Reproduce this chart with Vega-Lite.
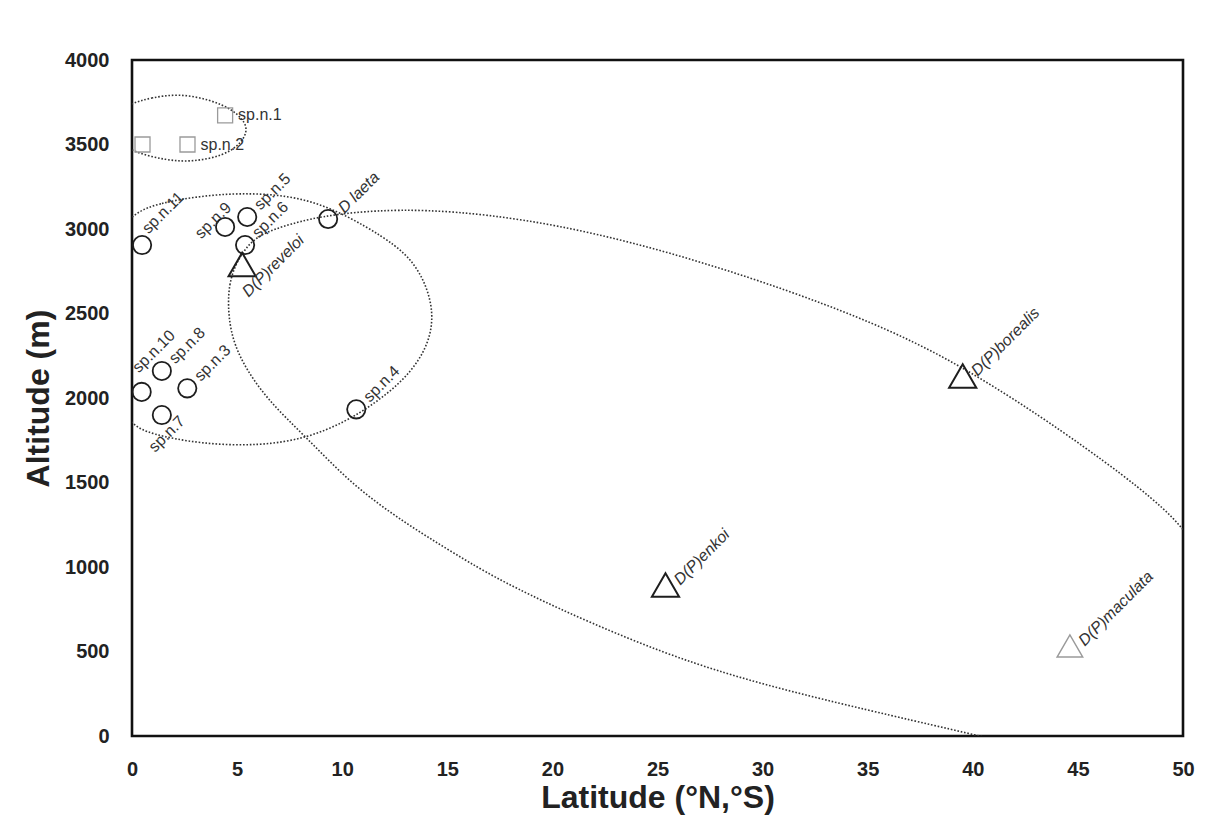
{
  "$schema": "https://vega.github.io/schema/vega-lite/v6.json",
  "width": 1051,
  "height": 676,
  "autosize": {"type": "none"},
  "padding": {"left": 132, "top": 60, "right": 33, "bottom": 99},
  "background": "white",
  "config": {
    "view": {"stroke": "#111111", "strokeWidth": 2.6},
    "font": "Liberation Sans"
  },
  "datasets": {
    "pts": [
      {"name": "", "x": 0.5, "y": 3500, "group": "sq"},
      {"name": "sp.n.2", "x": 2.64, "y": 3500, "group": "sq"},
      {"name": "sp.n.1", "x": 4.43, "y": 3672, "group": "sq"},
      {"name": "sp.n.11", "x": 0.48, "y": 2905, "group": "circ"},
      {"name": "sp.n.9", "x": 4.43, "y": 3012, "group": "circ"},
      {"name": "sp.n.5", "x": 5.48, "y": 3071, "group": "circ"},
      {"name": "sp.n.6", "x": 5.38, "y": 2905, "group": "circ"},
      {"name": "D laeta", "x": 9.33, "y": 3059, "group": "circ"},
      {"name": "sp.n.10", "x": 0.46, "y": 2036, "group": "circ"},
      {"name": "sp.n.8", "x": 1.42, "y": 2160, "group": "circ"},
      {"name": "sp.n.3", "x": 2.63, "y": 2057, "group": "circ"},
      {"name": "sp.n.7", "x": 1.42, "y": 1899, "group": "circ"},
      {"name": "sp.n.4", "x": 10.67, "y": 1933, "group": "circ"},
      {"name": "D(P)reveloi", "x": 5.24, "y": 2790, "group": "tri"},
      {"name": "D(P)borealis", "x": 39.52, "y": 2130, "group": "tri"},
      {"name": "D(P)enkoi", "x": 25.38, "y": 893, "group": "tri"},
      {"name": "D(P)maculata", "x": 44.62, "y": 533, "group": "tri2"}
    ],
    "ell": [
      {"e": "s", "i": 1, "x": 0, "y": 3746},
      {"e": "s", "i": 2, "x": 0.86, "y": 3775},
      {"e": "s", "i": 3, "x": 2.19, "y": 3802},
      {"e": "s", "i": 4, "x": 3.71, "y": 3766},
      {"e": "s", "i": 5, "x": 4.86, "y": 3704},
      {"e": "s", "i": 6, "x": 5.6, "y": 3604},
      {"e": "s", "i": 7, "x": 5.2, "y": 3505},
      {"e": "s", "i": 8, "x": 4.33, "y": 3432},
      {"e": "s", "i": 9, "x": 2.9, "y": 3398},
      {"e": "s", "i": 10, "x": 1.67, "y": 3405},
      {"e": "s", "i": 11, "x": 0, "y": 3456},
      {"e": "s", "i": 12, "x": -0.95, "y": 3538},
      {"e": "s", "i": 13, "x": -0.95, "y": 3675},

      {"e": "m", "i": 1, "x": 0, "y": 3095},
      {"e": "m", "i": 2, "x": 1.33, "y": 3154},
      {"e": "m", "i": 3, "x": 3.24, "y": 3195},
      {"e": "m", "i": 4, "x": 5.14, "y": 3213},
      {"e": "m", "i": 5, "x": 7.38, "y": 3201},
      {"e": "m", "i": 6, "x": 9.29, "y": 3136},
      {"e": "m", "i": 7, "x": 11.19, "y": 3012},
      {"e": "m", "i": 8, "x": 12.52, "y": 2905},
      {"e": "m", "i": 9, "x": 13.38, "y": 2805},
      {"e": "m", "i": 10, "x": 14.0, "y": 2669},
      {"e": "m", "i": 11, "x": 14.33, "y": 2509},
      {"e": "m", "i": 12, "x": 14.19, "y": 2355},
      {"e": "m", "i": 13, "x": 13.62, "y": 2213},
      {"e": "m", "i": 14, "x": 12.76, "y": 2089},
      {"e": "m", "i": 15, "x": 11.57, "y": 1970},
      {"e": "m", "i": 16, "x": 10.14, "y": 1858},
      {"e": "m", "i": 17, "x": 8.33, "y": 1763},
      {"e": "m", "i": 18, "x": 6.1, "y": 1716},
      {"e": "m", "i": 19, "x": 3.24, "y": 1728},
      {"e": "m", "i": 20, "x": 0.86, "y": 1787},
      {"e": "m", "i": 21, "x": 0, "y": 1840},
      {"e": "m", "i": 22, "x": -1.14, "y": 2018},
      {"e": "m", "i": 23, "x": -1.62, "y": 2462},
      {"e": "m", "i": 24, "x": -1.14, "y": 2905},

      {"e": "b", "i": 1, "x": 4.57, "y": 2550},
      {"e": "b", "i": 2, "x": 4.62, "y": 2669},
      {"e": "b", "i": 3, "x": 4.9, "y": 2787},
      {"e": "b", "i": 4, "x": 5.43, "y": 2893},
      {"e": "b", "i": 5, "x": 6.1, "y": 2970},
      {"e": "b", "i": 6, "x": 7.52, "y": 3030},
      {"e": "b", "i": 7, "x": 9.43, "y": 3089},
      {"e": "b", "i": 8, "x": 13.71, "y": 3130},
      {"e": "b", "i": 9, "x": 20.14, "y": 3041},
      {"e": "b", "i": 10, "x": 27.52, "y": 2799},
      {"e": "b", "i": 11, "x": 34.9, "y": 2473},
      {"e": "b", "i": 12, "x": 39.48, "y": 2195},
      {"e": "b", "i": 13, "x": 44.43, "y": 1793},
      {"e": "b", "i": 14, "x": 48.1, "y": 1456},
      {"e": "b", "i": 15, "x": 50.05, "y": 1237},
      {"e": "b", "i": 16, "x": 51.1, "y": 1012},
      {"e": "b", "i": 17, "x": 51.57, "y": 627},
      {"e": "b", "i": 18, "x": 52.05, "y": 154},
      {"e": "b", "i": 19, "x": 48.48, "y": -231},
      {"e": "b", "i": 20, "x": 46.1, "y": -172},
      {"e": "b", "i": 21, "x": 42.76, "y": -71},
      {"e": "b", "i": 22, "x": 39.71, "y": 18},
      {"e": "b", "i": 23, "x": 36.43, "y": 112},
      {"e": "b", "i": 24, "x": 30.95, "y": 272},
      {"e": "b", "i": 25, "x": 25.52, "y": 467},
      {"e": "b", "i": 26, "x": 18.24, "y": 864},
      {"e": "b", "i": 27, "x": 15.29, "y": 1083},
      {"e": "b", "i": 28, "x": 12.76, "y": 1278},
      {"e": "b", "i": 29, "x": 10.38, "y": 1497},
      {"e": "b", "i": 30, "x": 8.33, "y": 1763},
      {"e": "b", "i": 31, "x": 6.43, "y": 1988},
      {"e": "b", "i": 32, "x": 5.14, "y": 2225},
      {"e": "b", "i": 33, "x": 4.67, "y": 2402}
    ]
  },
  "encoding": {
    "x": {
      "field": "x",
      "type": "quantitative",
      "scale": {"domain": [0, 50], "nice": false, "zero": false},
      "axis": {
        "values": [0, 5, 10, 15, 20, 25, 30, 35, 40, 45, 50],
        "format": "d",
        "ticks": false,
        "tickSize": 0,
        "domain": false,
        "grid": false,
        "labelOverlap": false,
        "labelFlush": false,
        "labelFont": "Liberation Sans",
        "labelFontWeight": "bold",
        "labelFontSize": 20,
        "labelColor": "#222222",
        "labelPadding": 23,
        "title": "Latitude (°N,°S)",
        "titleFont": "Liberation Sans",
        "titleFontSize": 32,
        "titleFontWeight": "bold",
        "titleColor": "#222222",
        "titlePadding": 3
      }
    },
    "y": {
      "field": "y",
      "type": "quantitative",
      "scale": {"domain": [0, 4000], "nice": false, "zero": false},
      "axis": {
        "values": [0, 500, 1000, 1500, 2000, 2500, 3000, 3500, 4000],
        "format": "d",
        "ticks": false,
        "tickSize": 0,
        "domain": false,
        "grid": false,
        "labelOverlap": false,
        "labelFlush": false,
        "labelFont": "Liberation Sans",
        "labelFontWeight": "bold",
        "labelFontSize": 20,
        "labelColor": "#222222",
        "labelPadding": 23,
        "title": "Altitude (m)",
        "titleFont": "Liberation Sans",
        "titleFontSize": 32,
        "titleFontWeight": "bold",
        "titleColor": "#222222",
        "titlePadding": 9
      }
    }
  },
  "layer": [
    {
      "data": {"name": "ell"},
      "mark": {"type": "line", "interpolate": "basis-closed", "clip": true, "stroke": "#333333", "strokeWidth": 1.6, "strokeDash": [1.6, 1.8]},
      "encoding": {
        "detail": {"field": "e", "type": "nominal"},
        "order": {"field": "i", "type": "quantitative"}
      }
    },
    {
      "data": {"name": "pts"},
      "mark": {"type": "point", "filled": false, "opacity": 1},
      "encoding": {
        "shape": {"field": "group", "type": "nominal", "scale": {"domain": ["sq", "circ", "tri", "tri2"], "range": ["square", "circle", "triangle-up", "triangle-up"]}, "legend": null},
        "stroke": {"field": "group", "type": "nominal", "scale": {"domain": ["sq", "circ", "tri", "tri2"], "range": ["#9a9a9a", "#1e1e1e", "#1e1e1e", "#9a9a9a"]}, "legend": null},
        "size": {"field": "group", "type": "nominal", "scale": {"type": "ordinal", "domain": ["sq", "circ", "tri", "tri2"], "range": [225, 335, 740, 660]}, "legend": null},
        "strokeWidth": {"field": "group", "type": "nominal", "scale": {"type": "ordinal", "domain": ["sq", "circ", "tri", "tri2"], "range": [1.3, 1.8, 2, 1.4]}, "legend": null}
      }
    },
    {
      "data": {"name": "pts"},
      "transform": [{"filter": {"field": "name", "oneOf": ["sp.n.1", "sp.n.2"]}}],
      "mark": {"type": "text", "align": "left", "baseline": "middle", "dx": 13, "fontSize": 16, "font": "Liberation Sans", "fill": "#333333"},
      "encoding": {"text": {"field": "name"}}
    },
    {
      "data": {"name": "pts"},
      "transform": [{"filter": {"field": "name", "oneOf": ["sp.n.5", "sp.n.6", "sp.n.8", "sp.n.3", "sp.n.4"]}}],
      "mark": {"type": "text", "align": "left", "baseline": "middle", "angle": 315, "dx": 14, "dy": 0, "fontSize": 16, "font": "Liberation Sans", "fill": "#333333"},
      "encoding": {"text": {"field": "name"}}
    },
    {
      "data": {"name": "pts"},
      "transform": [{"filter": {"field": "name", "oneOf": ["sp.n.11"]}}],
      "mark": {"type": "text", "align": "left", "baseline": "middle", "angle": 315, "dx": 12, "dy": -8, "fontSize": 16, "font": "Liberation Sans", "fill": "#333333"},
      "encoding": {"text": {"field": "name"}}
    },
    {
      "data": {"name": "pts"},
      "transform": [{"filter": {"field": "name", "oneOf": ["sp.n.10"]}}],
      "mark": {"type": "text", "align": "left", "baseline": "middle", "angle": 315, "dx": 11, "dy": -20, "fontSize": 16, "font": "Liberation Sans", "fill": "#333333"},
      "encoding": {"text": {"field": "name"}}
    },
    {
      "data": {"name": "pts"},
      "transform": [{"filter": {"field": "name", "oneOf": ["sp.n.9"]}}],
      "mark": {"type": "text", "align": "right", "baseline": "middle", "angle": 315, "dx": 18, "dy": -13, "fontSize": 16, "font": "Liberation Sans", "fill": "#333333"},
      "encoding": {"text": {"field": "name"}}
    },
    {
      "data": {"name": "pts"},
      "transform": [{"filter": {"field": "name", "oneOf": ["sp.n.7"]}}],
      "mark": {"type": "text", "align": "right", "baseline": "middle", "angle": 315, "dx": 12, "dy": 17, "fontSize": 16, "font": "Liberation Sans", "fill": "#333333"},
      "encoding": {"text": {"field": "name"}}
    },
    {
      "data": {"name": "pts"},
      "transform": [{"filter": {"field": "name", "oneOf": ["D laeta"]}}],
      "mark": {"type": "text", "align": "left", "baseline": "middle", "angle": 315, "dx": 15, "dy": 3, "fontSize": 16, "fontStyle": "italic", "font": "Liberation Sans", "fill": "#333333"},
      "encoding": {"text": {"field": "name"}}
    },
    {
      "data": {"name": "pts"},
      "transform": [{"filter": {"field": "name", "oneOf": ["D(P)borealis", "D(P)enkoi", "D(P)maculata"]}}],
      "mark": {"type": "text", "align": "left", "baseline": "middle", "angle": 315, "dx": 10, "dy": 6, "fontSize": 16, "fontStyle": "italic", "font": "Liberation Sans", "fill": "#333333"},
      "encoding": {"text": {"field": "name"}}
    },
    {
      "data": {"name": "pts"},
      "transform": [{"filter": {"field": "name", "oneOf": ["D(P)reveloi"]}}],
      "mark": {"type": "text", "align": "left", "baseline": "middle", "angle": 315, "dx": -19, "dy": 23, "fontSize": 16, "fontStyle": "italic", "font": "Liberation Sans", "fill": "#333333"},
      "encoding": {"text": {"field": "name"}}
    }
  ]
}
